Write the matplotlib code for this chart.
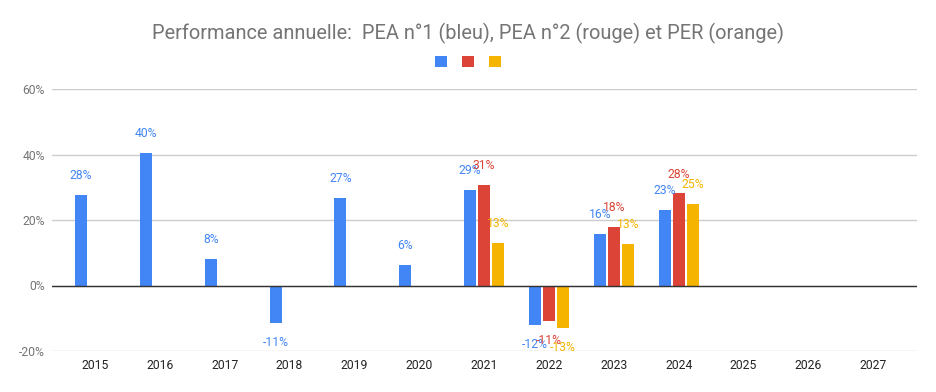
import numpy as np
import matplotlib.pyplot as plt
from matplotlib.patches import Patch

plt.rcParams['font.family'] = ['Roboto', 'DejaVu Sans']

# data (annual performance, %)
years = ["2015", "2016", "2017", "2018", "2019", "2020", "2021",
         "2022", "2023", "2024", "2025", "2026", "2027"]
nan = np.nan
pea1 = [27.6, 40.4, 8.2, -11.4, 26.7, 6.2, 29.3, -12.0, 15.7, 23.1, nan, nan, nan]
pea2 = [nan, nan, nan, nan, nan, nan, 30.6, -10.9, 17.8, 28.1, nan, nan, nan]
per = [nan, nan, nan, nan, nan, nan, 12.9, -12.9, 12.6, 25.0, nan, nan, nan]

series = [pea1, pea2, per]
colors = ["#4285F4", "#DB4437", "#F4B400"]

GRAY = "#757575"
BAR_W = 0.185
SLOT = 0.216


def draw_bars(ax):
    x = np.arange(len(years))
    for k, (vals, col) in enumerate(zip(series, colors)):
        vals = np.array(vals, dtype=float)
        xs = x + (k - 1) * SLOT
        ok = ~np.isnan(vals)
        ax.bar(xs[ok], vals[ok], width=BAR_W, color=col, zorder=3)
        for xi, v in zip(xs[ok], vals[ok]):
            off = 14 if v >= 0 else -14
            ax.annotate("%d%%" % round(v), (xi, v), xytext=(0, off),
                        textcoords="offset points", ha="center", va="center",
                        color=col, fontsize=8.7, zorder=4)


def main():
    fig = plt.figure(figsize=(9.37, 3.92), dpi=100)
    ax = fig.add_axes([52 / 937, 41 / 392, 865 / 937, 262 / 392])

    draw_bars(ax)

    ax.set_ylim(-20, 60)
    ax.set_xlim(-0.663, 12.675)
    ax.set_yticks([-20, 0, 20, 40, 60])
    ax.set_yticklabels(["-20%", "0%", "20%", "40%", "60%"])
    ax.set_xticks(np.arange(len(years)))
    ax.set_xticklabels(years)
    ax.tick_params(axis="y", length=0, pad=5, labelsize=8.7, labelcolor=GRAY)
    ax.tick_params(axis="x", length=0, pad=6, labelsize=8.7, labelcolor="#222222")
    ax.grid(axis="y", color="#cccccc", lw=1, zorder=0)
    ax.axhline(0, color="#333333", lw=1, zorder=4)
    for s in ax.spines.values():
        s.set_visible(False)

    fig.text(0.5, 1 - 33 / 392, "Performance annuelle:  PEA n°1 (bleu), PEA n°2 (rouge) et PER (orange)",
             ha="center", va="center", color=GRAY, fontsize=14.4)

    handles = [Patch(facecolor=c) for c in colors]
    fig.legend(handles, ["", "", ""], ncol=3, loc="center",
               bbox_to_anchor=(468 / 937, 1 - 62 / 392), frameon=False,
               handlelength=0.85, handleheight=0.85, handletextpad=0,
               columnspacing=1.1)

    fig.savefig("out.png", dpi=100)


if __name__ == '__main__':
    main()
